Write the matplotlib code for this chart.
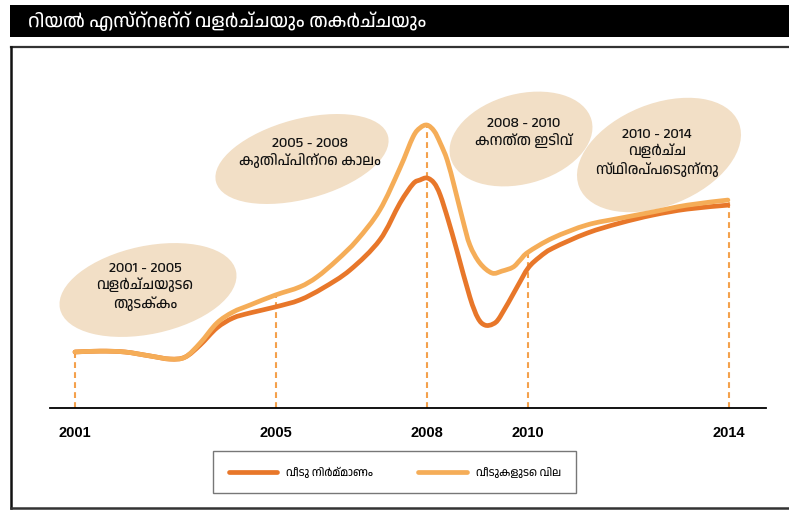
import matplotlib
matplotlib.use("Agg")
import matplotlib.pyplot as plt
import numpy as np
from matplotlib import font_manager as fm
from matplotlib.ft2font import FT2Font
from matplotlib.patches import Ellipse, Rectangle, PathPatch
from matplotlib.path import Path
from matplotlib.lines import Line2D

# ---------------- data (index, peak of prices = 100) ----------------
price_years = [2001.00, 2001.50, 2001.99, 2002.49, 2002.89, 2003.19, 2003.49, 2003.82,
               2004.14, 2004.48, 2004.98, 2005.47, 2005.81, 2006.21, 2006.61, 2007.06,
               2007.46, 2007.72, 2007.86, 2008.00, 2008.14, 2008.26, 2008.40, 2008.55,
               2008.71, 2008.85, 2009.05, 2009.29, 2009.49, 2009.71, 2009.85, 2010.01,
               2010.50, 2011.18, 2011.84, 2012.49, 2013.17, 2013.98]
price_vals = [19.8, 20.1, 19.8, 18.4, 17.3, 18.0, 23.0, 30.0,
              33.9, 36.4, 39.9, 42.8, 46.3, 52.3, 59.4, 70.0,
              84.8, 95.8, 99.0, 100.0, 97.9, 93.7, 87.6, 77.7,
              66.4, 57.6, 51.2, 47.7, 48.4, 49.8, 52.3, 55.1,
              60.1, 64.7, 67.1, 69.3, 71.7, 73.5]

build_years = [2001.00, 2001.50, 2001.99, 2002.49, 2002.89, 2003.19, 2003.49, 2003.82,
               2004.14, 2004.48, 2004.98, 2005.47, 2005.93, 2006.47, 2007.06, 2007.46,
               2007.72, 2007.86, 2008.00, 2008.14, 2008.26, 2008.42, 2008.59, 2008.85,
               2009.01, 2009.15, 2009.31, 2009.45, 2009.79, 2010.01, 2010.24, 2010.50,
               2011.18, 2011.84, 2012.49, 2013.17, 2013.98]
build_vals = [19.8, 20.1, 19.8, 18.4, 17.3, 18.0, 22.3, 28.3,
              31.8, 33.6, 35.7, 38.2, 42.4, 48.8, 59.4, 72.4,
              79.2, 80.6, 81.3, 79.5, 75.3, 66.4, 55.8, 39.2,
              31.8, 29.3, 29.7, 32.2, 42.8, 49.5, 53.4, 56.5,
              61.8, 65.4, 68.2, 70.3, 71.7]

tick_years = [2001, 2005, 2008, 2010, 2014]
series_names = ["വീടു നിർമ്മാണം", "വീടുകളുടെ വില"]
title = "റിയൽ എസ്റ്റേറ്റ് വളർച്ചയും തകർച്ചയും"
phase_texts = ["2001 - 2005\nവളർച്ചയുടെ\nതുടക്കം",
               "2005 - 2008\nകുതിപ്പിന്റെ കാലം",
               "2008 - 2010\nകനത്ത ഇടിവ്",
               "2010 - 2014\nവളർച്ച\nസ്ഥിരപ്പെടുന്നു"]

# ---------------- fonts ----------------
def find_font(ch):
    cands = sorted(fm.fontManager.ttflist, key=lambda f: 0 if "Malayalam" in f.name else 1)
    for f in cands:
        try:
            if ord(ch) in FT2Font(f.fname).get_charmap():
                return f.name
        except Exception:
            pass
    return None

ml = find_font("വ")
fams = ([ml] if ml else []) + ["Open Sans", "DejaVu Sans"]
plt.rcParams["font.family"] = fams

DARK = "#E8772A"
LIGHT = "#F5AD58"
DASH = "#F4A14C"
BEIGE = "#F2DFC6"


def smooth_path(xs, ys):
    """Catmull-Rom curve through the given points, as cubic Bezier segments."""
    p = np.column_stack([xs, ys]).astype(float)
    ext = np.vstack([p[0], p, p[-1]])
    verts = [p[0]]
    codes = [Path.MOVETO]
    for i in range(1, len(ext) - 2):
        p0, p1, p2, p3 = ext[i - 1], ext[i], ext[i + 1], ext[i + 2]
        c1 = p1 + (p2 - p0) / 6.0
        c2 = p2 - (p3 - p1) / 6.0
        verts += [c1, c2, p2]
        codes += [Path.CURVE4] * 3
    return Path(verts, codes)


W, H = 789, 513
fig = plt.figure(figsize=(W / 100, H / 100), dpi=100)

# overlay (pixel coordinates) for decoration
bg = fig.add_axes([0, 0, 1, 1], zorder=0)
bg.set_xlim(0, W)
bg.set_ylim(H, 0)
bg.axis("off")
bg.add_patch(Rectangle((10, 5), W - 10, 32, facecolor="black", edgecolor="none"))
bg.text(28, 21, title, color="white", fontsize=13.5, va="center", ha="left")
bg.plot([11, W], [47, 47], color="#333333", lw=1.6)
bg.plot([11, 11], [47, 508], color="#111111", lw=1.8)
bg.plot([11, W], [508, 508], color="#333333", lw=1.8)

ell = [((148, 290), 180, 88, -12), ((302, 159), 178, 80, -15),
       ((521, 139), 146, 90, -15), ((659, 155), 172, 102, -22)]
txt_pos = [(145, 287), (310, 153), (524, 133), (657, 153)]
for (c, w, h, a), (tx, ty), t in zip(ell, txt_pos, phase_texts):
    bg.add_patch(Ellipse(c, w, h, angle=a, facecolor=BEIGE, edgecolor="none"))
    bg.text(tx, ty, t, ha="center", va="center", fontsize=10.5, color="#111111",
            linespacing=1.35, multialignment="center")

# data axes
ax = fig.add_axes([50 / W, (H - 408) / H, 716 / W, 348 / H], zorder=1)
ax.patch.set_alpha(0)
ax.set_xlim(2001 - 25 / 50.3, 2001 + 691 / 50.3)
ax.set_ylim(0, 123)
for s in ["top", "right", "left"]:
    ax.spines[s].set_visible(False)
ax.spines["bottom"].set_color("black")
ax.spines["bottom"].set_linewidth(1.3)
ax.set_yticks([])
ax.set_xticks(tick_years)
ax.set_xticklabels([str(y) for y in tick_years], fontsize=10.5, fontweight="bold",
                   family=["Liberation Sans", "DejaVu Sans"])
ax.tick_params(axis="x", length=0, pad=13)

for yr in tick_years:
    top = np.interp(yr, price_years, price_vals)
    ax.plot([yr, yr], [0, top], color=DASH, lw=1.5, dashes=(2.8, 2), zorder=1)

for xs, ys, col, z in [(build_years, build_vals, DARK, 3), (price_years, price_vals, LIGHT, 4)]:
    ax.add_patch(PathPatch(smooth_path(xs, ys), facecolor="none", edgecolor=col,
                           lw=3.4, capstyle="round", joinstyle="round", zorder=z))

h1 = Line2D([], [], color=DARK, lw=3.4, solid_capstyle="round")
h2 = Line2D([], [], color=LIGHT, lw=3.4, solid_capstyle="round")
leg = fig.legend([h1, h2], series_names, loc="upper left",
                 bbox_to_anchor=(213 / W, 1 - 451 / H), ncol=2, frameon=True,
                 fancybox=False, edgecolor="#555555", fontsize=8,
                 handlelength=4.4, handletextpad=0.8, columnspacing=4.0,
                 borderpad=1.4, borderaxespad=0)
leg.get_frame().set_linewidth(1.0)

fig.savefig("out.png", dpi=100)
